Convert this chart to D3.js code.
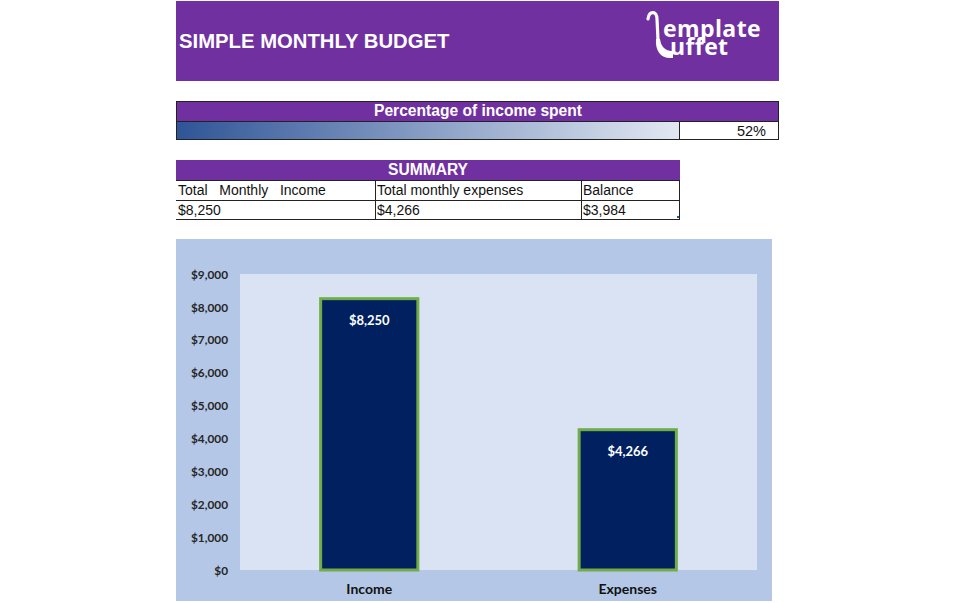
<!DOCTYPE html>
<html><head><meta charset="utf-8">
<script src="https://cdn.jsdelivr.net/npm/d3@7"></script>
<style>
html,body{margin:0;padding:0;background:#fff;}
svg{display:block;}
</style></head>
<body>
<svg id="c" width="955" height="603"></svg>
<script>
const title = "SIMPLE MONTHLY BUDGET";
const pctTitle = "Percentage of income spent";
const pctValue = "52%";
const summaryTitle = "SUMMARY";
const summaryHeaders = ["Total   Monthly   Income", "Total monthly expenses", "Balance"];
const summaryValues = ["$8,250", "$4,266", "$3,984"];
const categories = ["Income", "Expenses"];
const values = [8250, 4266];
const valueLabels = ["$8,250", "$4,266"];
const yTicks = [0, 1000, 2000, 3000, 4000, 5000, 6000, 7000, 8000, 9000];

const svg = d3.select("#c");
const purple = "#7030A0";
const arial = "'Liberation Sans', Arial, sans-serif";
const cal = "Lato, 'Open Sans', sans-serif";

// Header
svg.append("rect").attr("x",176).attr("y",1).attr("width",603).attr("height",80).attr("fill",purple);
svg.append("text").attr("x",179).attr("y",48).attr("fill","#fff").attr("font-family",arial)
  .attr("font-weight","bold").attr("font-size",20.3).text(title);
// logo
const lg = svg.append("g");
lg.append("path").attr("d","M648,19 C649,11 657,10 657,19 L658,40")
  .attr("fill","none").attr("stroke","#fff").attr("stroke-width",3.2).attr("stroke-linecap","round");
lg.append("path").attr("d","M656,39 L660,39 C661,46 664,50 671,51 L673,51 L673,58 L670,58 C661,58 655,51 656,39 Z")
  .attr("fill","#fff");
const lt = lg.append("text").attr("fill","#fff").attr("font-family","'Open Sans', sans-serif")
  .attr("font-weight","bold").attr("font-size",23).attr("letter-spacing",0.4);
lt.append("tspan").attr("x",663).attr("y",37).text("emplate");
lt.append("tspan").attr("x",670).attr("y",55).text("uffet");

// Percentage block
svg.append("rect").attr("x",176.5).attr("y",101.5).attr("width",602).attr("height",20).attr("fill",purple).attr("stroke","#222").attr("stroke-width",1);
svg.append("text").attr("x",478).attr("y",116).attr("text-anchor","middle").attr("fill","#fff").attr("font-family",arial)
  .attr("font-weight","bold").attr("font-size",15.6).text(pctTitle);
const defs = svg.append("defs");
const gr = defs.append("linearGradient").attr("id","g1").attr("x1","0").attr("x2","1").attr("y1","0").attr("y2","0");
gr.append("stop").attr("offset","0").attr("stop-color","#2F5597");
gr.append("stop").attr("offset","1").attr("stop-color","#E2E8F2");
svg.append("rect").attr("x",176.5).attr("y",121.5).attr("width",602).attr("height",18).attr("fill","#fff").attr("stroke","#222");
svg.append("rect").attr("x",177).attr("y",122).attr("width",502).attr("height",17).attr("fill","url(#g1)");
svg.append("line").attr("x1",679.5).attr("x2",679.5).attr("y1",121.5).attr("y2",139.5).attr("stroke","#222");
svg.append("text").attr("x",766).attr("y",136).attr("text-anchor","end").attr("fill","#111").attr("font-family",arial)
  .attr("font-size",14.5).text(pctValue);

// Summary
svg.append("rect").attr("x",176).attr("y",160).attr("width",504).attr("height",20).attr("fill",purple);
svg.append("text").attr("x",428).attr("y",175).attr("text-anchor","middle").attr("fill","#fff").attr("font-family",arial)
  .attr("font-weight","bold").attr("font-size",15.6).text(summaryTitle);
const colX = [176, 375, 581, 680];
[180.5, 200.5, 219.5].forEach(y=>svg.append("line").attr("x1",176).attr("x2",680).attr("y1",y).attr("y2",y).attr("stroke","#222"));
[375.5, 581.5, 679.5].forEach(x=>svg.append("line").attr("x1",x).attr("x2",x).attr("y1",180).attr("y2",220).attr("stroke","#222"));
summaryHeaders.forEach((t,i)=>svg.append("text").attr("x",colX[i]+2).attr("y",195).attr("fill","#111")
  .attr("font-family",arial).attr("font-size",14).attr("xml:space","preserve").style("white-space","pre").text(t));
summaryValues.forEach((t,i)=>svg.append("text").attr("x",colX[i]+2).attr("y",215).attr("fill","#111")
  .attr("font-family",arial).attr("font-size",14).text(t));
svg.append("rect").attr("x",677).attr("y",216).attr("width",2).attr("height",2).attr("fill","#2F5597");

// Chart
svg.append("rect").attr("x",176).attr("y",239).attr("width",596).attr("height",362).attr("fill","#B4C7E7");
const plot = {l:240, r:757, t:274, b:570};
svg.append("rect").attr("x",plot.l).attr("y",plot.t).attr("width",plot.r-plot.l).attr("height",plot.b-plot.t).attr("fill","#DAE3F3");

const y = d3.scaleLinear().domain([0,9000]).range([plot.b, plot.t]);
const x = d3.scaleBand().domain(categories).range([plot.l, plot.r]).paddingInner(0.624).paddingOuter(0.312);

const yAxis = d3.axisLeft(y).tickValues(yTicks).tickSize(0).tickPadding(0).tickFormat(d=>"$"+d3.format(",")(d));
const ya = svg.append("g").attr("transform",`translate(228,0)`).call(yAxis);
ya.select(".domain").remove();
ya.selectAll("text").attr("font-family",cal).attr("font-weight","bold").attr("font-size",11.8).attr("fill","#262626").attr("dy","0.35em");

const xAxis = d3.axisBottom(x).tickSize(0).tickPadding(0);
const xa = svg.append("g").attr("transform",`translate(0,${plot.b+14})`).call(xAxis);
xa.select(".domain").remove();
xa.selectAll("text").attr("font-family",cal).attr("font-weight","bold").attr("font-size",14).attr("fill","#111").attr("dy","0.71em");

svg.selectAll(".bar").data(values).enter().append("rect").attr("class","bar")
  .attr("x",(d,i)=>x(categories[i])).attr("width",x.bandwidth())
  .attr("y",d=>y(d)).attr("height",d=>plot.b-y(d))
  .attr("fill","#002060").attr("stroke","#70AD47").attr("stroke-width",3);

svg.selectAll(".lbl").data(values).enter().append("text").attr("class","lbl")
  .attr("x",(d,i)=>x(categories[i])+x.bandwidth()/2).attr("y",d=>y(d)+26)
  .attr("text-anchor","middle").attr("fill","#fff").attr("font-family",cal).attr("font-weight","bold").attr("font-size",13)
  .text((d,i)=>valueLabels[i]);
</script>
</body></html>
